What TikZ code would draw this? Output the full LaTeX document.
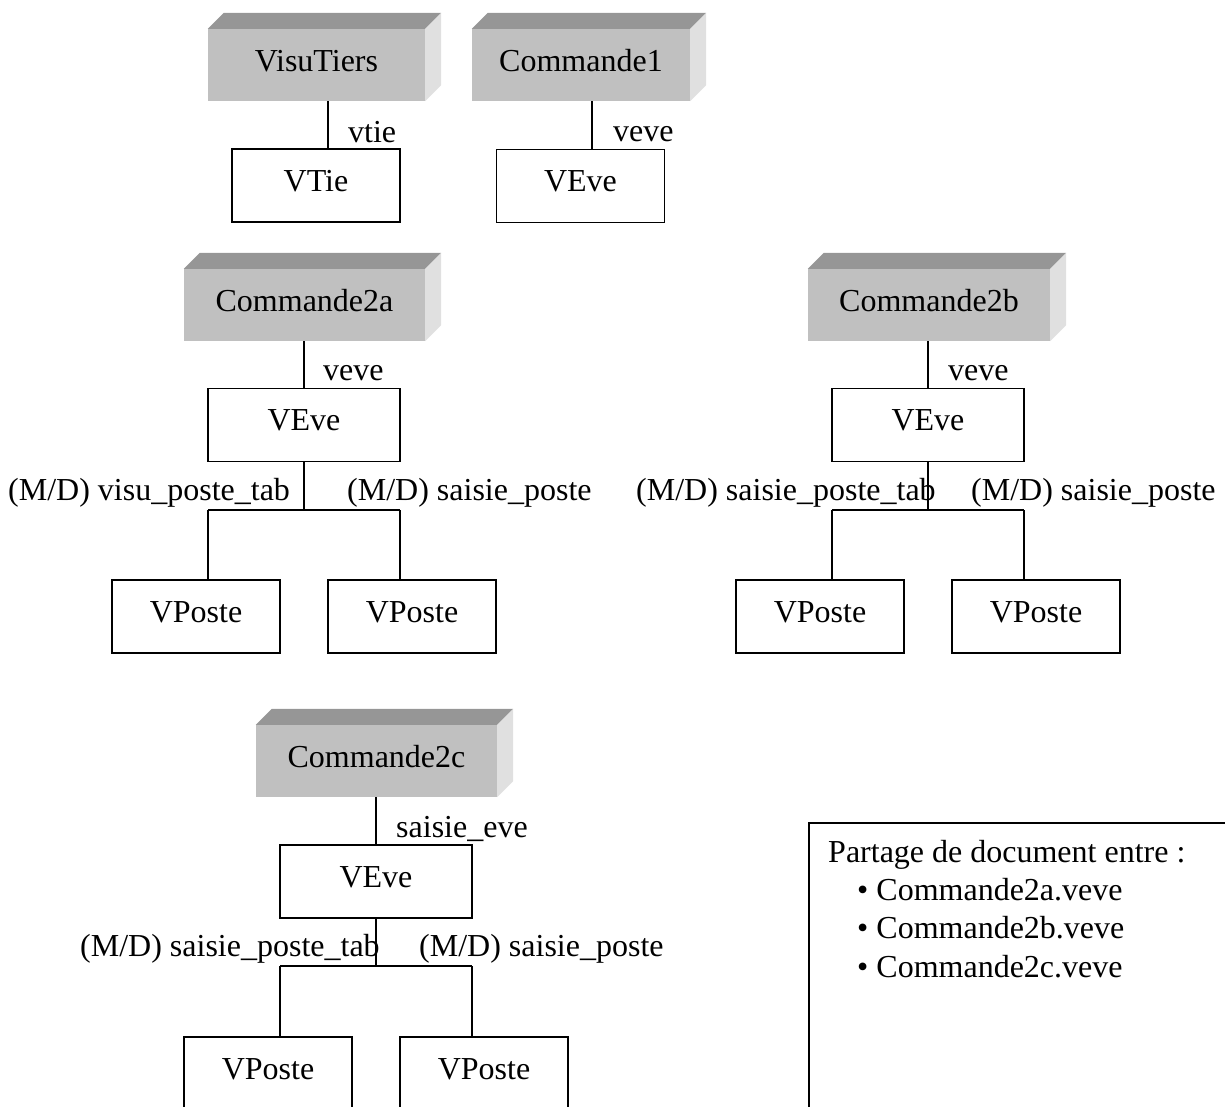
\documentclass[tikz,border=0pt]{standalone}
\usepackage{fontspec}
\setmainfont{Liberation Serif}
\usetikzlibrary{calc}
\definecolor{frontgray}{HTML}{C0C0C0}
\definecolor{topgray}{HTML}{969696}
\definecolor{sidegray}{HTML}{E0E0E0}
\newcommand\solidfaces[1]{%
  \fill[topgray] (#1.north west) -- ++(16,-16) -- ($(#1.north east)+(16,-16)$) -- (#1.north east) -- cycle;
  \fill[sidegray] (#1.north east) -- ++(16,-16) -- ($(#1.south east)+(16,-16)$) -- (#1.south east) -- cycle;}
\begin{document}
\begin{tikzpicture}[x=1pt,y=-1pt,font=\fontsize{32}{38}\selectfont,
  box/.style={draw,line width=1.5pt,minimum height=73pt,inner sep=0pt,text height=22pt,text depth=11pt},
  pbox/.style={box,minimum width=168pt},
  ebox/.style={box,minimum width=192pt},
  front/.style={fill=frontgray,minimum height=72pt,inner sep=0pt,text height=22pt,text depth=10pt},
  lbl/.style={inner sep=0pt,anchor=base west},
  wire/.style={line width=1.5pt}]
\useasboundingbox (0,0) rectangle (1225,1106);
\clip (0,0) rectangle (1225,1106);

% ---- VisuTiers ----
\node[front,minimum width=217pt] (vt) at (316.5,65) {VisuTiers};
\solidfaces{vt}
\node[pbox] (vtie) at (316,185.5) {VTie};
\coordinate (lvt) at (328,0);
\draw[wire] (vt.south -| lvt) -- (vtie.north -| lvt);
\node[lbl] (lbvtie) at (348,142) {vtie};

% ---- Commande1 ----
\node[front,minimum width=218pt] (c1) at (581,65) {Commande1};
\solidfaces{c1}
\node[pbox] (v1) at (580.5,186) {VEve};
\coordinate (lc1) at (592,0);
\draw[wire] (c1.south -| lc1) -- (v1.north -| lc1);
\node[lbl] (lbc1) at (613,141) {veve};

% ---- Commande2a ----
\node[front,minimum width=241pt] (c2a) at (304.5,305) {Commande2a};
\solidfaces{c2a}
\node[ebox] (v2a) at (304,425) {VEve};
\draw[wire] (c2a.south -| v2a.north) -- (v2a.north);
\node[lbl] (lb2a) at (323,380) {veve};
\coordinate (j2a) at (304,510);
\coordinate (j2aL) at (208,510);
\coordinate (j2aR) at (400,510);
\node[pbox] (p2a1) at (196,616.5) {VPoste};
\node[pbox] (p2a2) at (412,616.5) {VPoste};
\draw[wire] (v2a.south) -- (j2a);
\draw[wire] (j2aL) -- (j2aR);
\draw[wire] (j2aL) -- (j2aL |- p2a1.north);
\draw[wire] (j2aR) -- (j2aR |- p2a2.north);
\node[lbl] (lb2aL) at (8,500) {(M/D) visu\_poste\_tab};
\node[lbl] (lb2aR) at (347,500) {(M/D) saisie\_poste};

% ---- Commande2b ----
\node[front,minimum width=242pt] (c2b) at (929,305) {Commande2b};
\solidfaces{c2b}
\node[ebox] (v2b) at (928,425) {VEve};
\draw[wire] (c2b.south -| v2b.north) -- (v2b.north);
\node[lbl] (lb2b) at (948,380) {veve};
\coordinate (j2b) at (928,510);
\coordinate (j2bL) at (832,510);
\coordinate (j2bR) at (1024,510);
\node[pbox] (p2b1) at (820,616.5) {VPoste};
\node[pbox] (p2b2) at (1036,616.5) {VPoste};
\draw[wire] (v2b.south) -- (j2b);
\draw[wire] (j2bL) -- (j2bR);
\draw[wire] (j2bL) -- (j2bL |- p2b1.north);
\draw[wire] (j2bR) -- (j2bR |- p2b2.north);
\node[lbl] (lb2bL) at (636,500) {(M/D) saisie\_poste\_tab};
\node[lbl] (lb2bR) at (971,500) {(M/D) saisie\_poste};

% ---- Commande2c ----
\node[front,minimum width=241pt] (c2c) at (376.5,761) {Commande2c};
\solidfaces{c2c}
\node[ebox] (v2c) at (376,881.5) {VEve};
\draw[wire] (c2c.south -| v2c.north) -- (v2c.north);
\node[lbl] (lb2c) at (396,837) {saisie\_eve};
\coordinate (j2c) at (376,966);
\coordinate (j2cL) at (280,966);
\coordinate (j2cR) at (472,966);
\node[pbox] (p2c1) at (268,1073.5) {VPoste};
\node[pbox] (p2c2) at (484,1073.5) {VPoste};
\draw[wire] (v2c.south) -- (j2c);
\draw[wire] (j2cL) -- (j2cR);
\draw[wire] (j2cL) -- (j2cL |- p2c1.north);
\draw[wire] (j2cR) -- (j2cR |- p2c2.north);
\node[lbl] (lb2cL) at (80,956) {(M/D) saisie\_poste\_tab};
\node[lbl] (lb2cR) at (419,956) {(M/D) saisie\_poste};

% ---- Note ----
\node[draw,line width=1.5pt,inner sep=0pt,anchor=north west,minimum width=440pt,minimum height=310pt] (note) at (808,822) {};
\node[lbl] (nt0) at (828,862) {Partage de document entre :};
\node[lbl] (nt1) at (857,900) {• Commande2a.veve};
\node[lbl] (nt2) at (857,938) {• Commande2b.veve};
\node[lbl] (nt3) at (857,977) {• Commande2c.veve};
\end{tikzpicture}
\end{document}
